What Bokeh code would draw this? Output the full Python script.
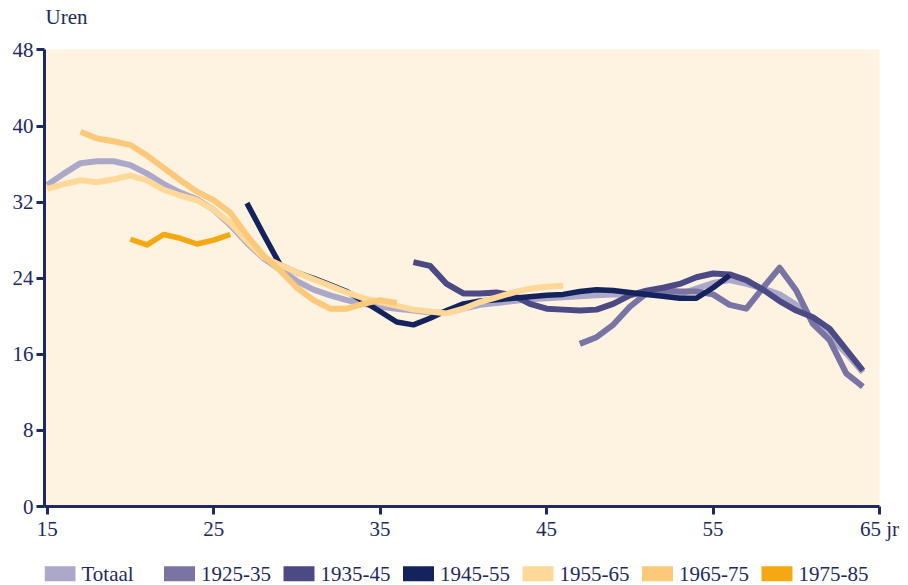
from bokeh.plotting import figure
from bokeh.layouts import column
from bokeh.models import Range1d, FixedTicker, ColumnDataSource
from bokeh.core.properties import value
from bokeh.embed import file_html
from bokeh.resources import INLINE

# ---------------- data ----------------
series_names = ["Totaal", "1925-35", "1935-45", "1945-55", "1955-65", "1965-75", "1975-85"]

ages_totaal = list(range(15, 65))
totaal = [33.8, 35.0, 36.1, 36.3, 36.3, 35.9, 35.0, 33.9, 33.0, 32.3,
          31.2, 29.6, 27.7, 26.1, 24.9, 23.7, 22.8, 22.2, 21.7, 21.3,
          21.0, 20.8, 20.6, 20.4, 20.4, 20.8, 21.2, 21.4, 21.6, 21.8,
          21.9, 22.0, 22.1, 22.2, 22.3, 22.3, 22.4, 22.3, 22.3, 22.9,
          23.5, 23.8, 23.4, 22.9, 22.3, 21.2, 19.7, 17.9, 16.1, 14.1]

ages_1925 = list(range(47, 65))
c1925 = [17.1, 17.8, 19.1, 21.0, 22.4, 22.7, 22.6, 22.6, 22.3, 21.2,
         20.8, 23.0, 25.1, 22.7, 19.2, 17.5, 14.0, 12.6]

ages_1935 = list(range(37, 65))
c1935 = [25.7, 25.3, 23.4, 22.4, 22.4, 22.5, 22.2, 21.3, 20.8, 20.7,
         20.6, 20.7, 21.3, 22.2, 22.7, 23.0, 23.4, 24.1, 24.5, 24.4,
         23.8, 22.8, 21.6, 20.6, 19.9, 18.7, 16.5, 14.3]

ages_1945 = list(range(27, 57))
c1945 = [31.9, 28.6, 25.4, 24.6, 24.0, 23.3, 22.6, 21.6, 20.5, 19.4,
         19.1, 19.8, 20.6, 21.3, 21.6, 21.75, 21.9, 22.05, 22.2, 22.3,
         22.6, 22.8, 22.7, 22.5, 22.3, 22.1, 21.9, 21.9, 23.0, 24.3]

ages_1955 = list(range(15, 47))
c1955 = [33.4, 33.9, 34.3, 34.1, 34.4, 34.8, 34.3, 33.3, 32.7, 32.2,
         31.2, 29.8, 27.9, 26.2, 25.4, 24.6, 23.9, 23.2, 22.5, 21.9,
         21.5, 21.1, 20.7, 20.5, 20.3, 20.8, 21.5, 22.0, 22.5, 22.9,
         23.1, 23.2]

ages_1965 = list(range(17, 37))
c1965 = [39.4, 38.7, 38.4, 38.0, 36.9, 35.6, 34.3, 33.1, 32.2, 30.9,
         28.5, 26.4, 24.8, 23.0, 21.7, 20.8, 20.8, 21.3, 21.7, 21.4]

ages_1975 = list(range(20, 27))
c1975 = [28.1, 27.5, 28.6, 28.2, 27.6, 28.0, 28.6]

x_ticks = [15, 25, 35, 45, 55, 65]
y_ticks = [0, 8, 16, 24, 32, 40, 48]
x_tick_labels = {65: "65 jr"}
y_title = "Uren"

colors = ["#aba8c9", "#7a74a4", "#4c4a85", "#15235d", "#fdd899", "#fbc97a", "#f5a812"]
widths = [6, 6, 6, 5.5, 6, 6, 5.5]

# ---------------- layout constants (pixels) ----------------
FONT = "Liberation Serif"
INK = "#1e2a5c"
W = 906
TITLE_H = 30
MAIN_H = 525
LEG_H = 30
B_LEFT, B_RIGHT = 44, 27
FRAME_RIGHT = W - B_RIGHT


def strip(height):
    # helper strip whose data units equal page pixels (x) and pixels from its top (y)
    f = figure(width=W, height=height, x_range=Range1d(B_LEFT, FRAME_RIGHT),
               y_range=Range1d(height, 0), x_axis_location=None, y_axis_location=None,
               min_border=0, min_border_left=B_LEFT, min_border_right=B_RIGHT,
               output_backend="svg", toolbar_location=None)
    f.outline_line_color = None
    f.xgrid.visible = False
    f.ygrid.visible = False
    f.background_fill_color = "white"
    f.border_fill_color = "white"
    return f


# ---------------- title strip ----------------
t = strip(TITLE_H)
t.text(x=[B_LEFT + 1], y=[16.2], text=[y_title], text_font=value(FONT),
       text_font_size="21px", text_color=INK, text_baseline="middle", text_align="left")

# ---------------- main chart ----------------
p = figure(width=W, height=MAIN_H,
           x_range=Range1d(14.84, 65.0), y_range=Range1d(0, 48.05),
           output_backend="svg", toolbar_location=None,
           min_border_left=B_LEFT, min_border_right=B_RIGHT, min_border_top=19, min_border_bottom=49)
p.outline_line_color = None
p.xgrid.visible = False
p.ygrid.visible = False
p.background_fill_color = "#fef2e1"
p.border_fill_color = "white"

xaxis = p.below[0]
yaxis = p.left[0]
for ax in (xaxis, yaxis):
    ax.axis_line_color = INK
    ax.axis_line_width = 3
    ax.major_tick_line_color = INK
    ax.major_tick_line_width = 3
    ax.major_tick_out = 8
    ax.major_tick_in = 0
    ax.minor_tick_line_color = None
    ax.major_label_text_font = FONT
    ax.major_label_text_font_size = "21px"
    ax.major_label_text_color = INK

xaxis.ticker = FixedTicker(ticks=x_ticks)
xaxis.major_label_overrides = x_tick_labels
xaxis.major_label_standoff = 2
yaxis.ticker = FixedTicker(ticks=y_ticks)
yaxis.major_label_standoff = 3

all_ages = [ages_totaal, ages_1925, ages_1935, ages_1945, ages_1955, ages_1965, ages_1975]
all_vals = [totaal, c1925, c1935, c1945, c1955, c1965, c1975]

for ages, vals, col, w in zip(all_ages, all_vals, colors, widths):
    p.line(ages, vals, line_color=col, line_width=w, line_join="round", line_cap="butt")

# ---------------- legend strip ----------------
STEP = 119.5
SW_W, SW_H = 31, 15
lg = strip(LEG_H)
sw_left = [B_LEFT + i * STEP for i in range(len(series_names))]
src = ColumnDataSource(dict(
    xc=[l + SW_W / 2 for l in sw_left],
    xt=[l + SW_W + 6 for l in sw_left],
    name=series_names,
    color=colors,
))
lg.rect(x="xc", y=18.2, width=SW_W, height=SW_H, fill_color="color", line_color=None, source=src)
lg.text(x="xt", y=18.6, text="name", text_font=value(FONT), text_font_size="21px",
        text_color=INK, text_baseline="middle", text_align="left", source=src)

layout = column(t, p, lg, spacing=0)
open("out.html", "w").write(file_html(layout, INLINE))
